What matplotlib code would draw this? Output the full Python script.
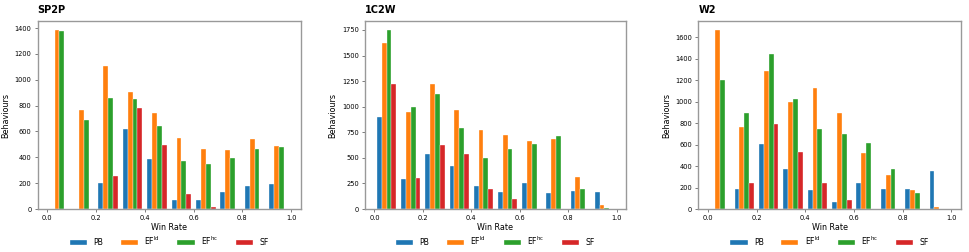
import numpy as np
import matplotlib
matplotlib.use("Agg")
import matplotlib.pyplot as plt

bin_edges = [0.0, 0.1, 0.2, 0.3, 0.4, 0.5, 0.6, 0.7, 0.8, 0.9, 1.0]
series_labels = ["PB", "EF$^{\\rm ld}$", "EF$^{\\rm hc}$", "SF"]
series_colors = ["#1f77b4", "#ff7f0e", "#2ca02c", "#d62728"]
panel_titles = ["SP2P", "1C2W", "W2"]

sp2p_pb = [0, 0, 205, 620, 383, 72, 72, 130, 175, 193]
sp2p_efld = [1385, 765, 1110, 905, 745, 553, 462, 460, 540, 485]
sp2p_efhc = [1375, 690, 855, 850, 640, 372, 352, 395, 462, 478]
sp2p_sf = [0, 0, 255, 785, 495, 115, 12, 0, 0, 0]

c2w_pb = [898, 295, 535, 425, 225, 170, 250, 152, 176, 166]
c2w_efld = [1627, 944, 1218, 970, 777, 721, 662, 682, 317, 42]
c2w_efhc = [1750, 999, 1122, 796, 499, 584, 632, 715, 196, 5]
c2w_sf = [1224, 300, 627, 535, 199, 97, 3, 0, 0, 0]

w2_pb = [0, 190, 604, 377, 175, 62, 246, 187, 190, 352]
w2_efld = [1668, 760, 1289, 999, 1123, 890, 520, 318, 178, 16]
w2_efhc = [1205, 890, 1444, 1024, 741, 703, 619, 370, 146, 2]
w2_sf = [0, 240, 791, 529, 246, 84, 3, 0, 0, 0]

panels = [
    [sp2p_pb, sp2p_efld, sp2p_efhc, sp2p_sf],
    [c2w_pb, c2w_efld, c2w_efhc, c2w_sf],
    [w2_pb, w2_efld, w2_efhc, w2_sf],
]

fig = plt.figure(figsize=(9.69, 2.52), dpi=100)
lefts = [0.0389, 0.3767, 0.7206]
widths = [0.2714, 0.2693, 0.2711]
edges = np.array(bin_edges)
centers = (edges[:-1] + edges[1:]) / 2

for i, (title, data) in enumerate(zip(panel_titles, panels)):
    ax = fig.add_axes([lefts[i], 0.1706, widths[i], 0.746])
    ax.hist([centers] * 4, bins=edges, weights=data,
            color=series_colors, label=series_labels,
            edgecolor="white", linewidth=0.25)
    ax.set_title(title, loc="left", fontsize=7, fontweight="bold", pad=6)
    ax.set_xlabel("Win Rate", fontsize=5.8, labelpad=1.5)
    ax.set_ylabel("Behaviours", fontsize=5.8, labelpad=3)
    ax.tick_params(labelsize=4.8, length=2.5, width=0.6, pad=2, color="0.4")
    for sp in ax.spines.values():
        sp.set_color("0.6")
        sp.set_linewidth(1.0)
    ax.legend(loc="center", bbox_to_anchor=(0.5, -0.17), ncol=4,
              frameon=False, fontsize=5.6, handlelength=2.2, handleheight=0.5,
              columnspacing=2.25, handletextpad=0.8, borderpad=0.1)

fig.savefig("out.png", dpi=100)
